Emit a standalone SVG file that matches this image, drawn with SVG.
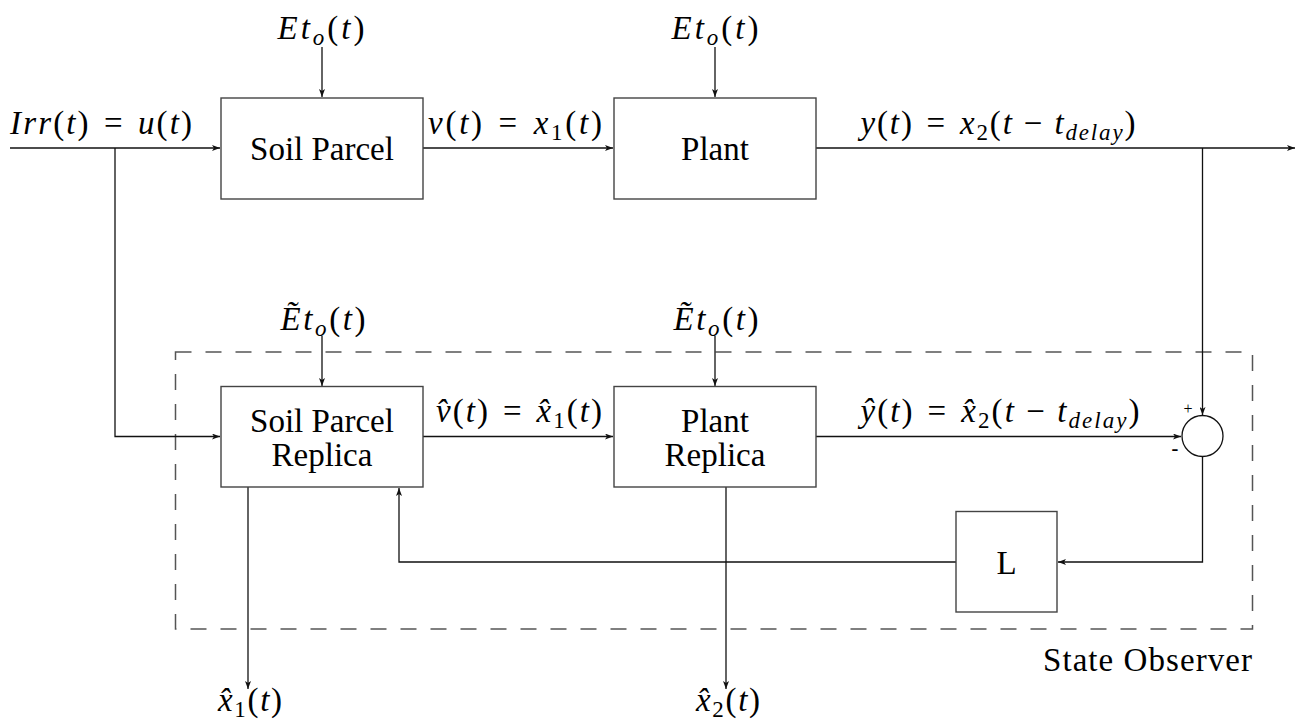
<svg xmlns="http://www.w3.org/2000/svg" width="1300" height="720" viewBox="0 0 1300 720">
<style>
  text { font-family: "Liberation Serif", "DejaVu Serif", serif; fill: #000; }
  .t { font-size: 33px; }
  .m { font-size: 33px; }
  .i { font-style: italic; }
  .s { font-size: 23px; }
  .box { fill: #fff; stroke: #444; stroke-width: 1.4; }
  .ln { fill: none; stroke: #111; stroke-width: 1.3; }
  .dash { fill: none; stroke: #555; stroke-width: 1.5; stroke-dasharray: 16 14; }
</style>
<defs>
  <marker id="ah" viewBox="0 0 8 6" refX="8" refY="3" markerWidth="8" markerHeight="6" markerUnits="userSpaceOnUse" orient="auto">
    <path d="M0,0 L8,3 L0,6 L2,3 z" fill="#111"/>
  </marker>
</defs>
<rect width="1300" height="720" fill="#fff"/>

<g id="observer-frame">
  <rect class="dash" x="175.5" y="352" width="1077" height="277"/>
  <text class="t" x="1252" y="671" text-anchor="end" textLength="209">State Observer</text>
</g>

<g id="connectors">
  <path class="ln" d="M10,148 H220" marker-end="url(#ah)"/>
  <path class="ln" d="M115,148 V436.5 H220" marker-end="url(#ah)"/>
  <path class="ln" d="M423,148 H613" marker-end="url(#ah)"/>
  <path class="ln" d="M816,148 H1295" marker-end="url(#ah)"/>
  <path class="ln" d="M1202.5,148 V415" marker-end="url(#ah)"/>
  <path class="ln" d="M322,47 V97" marker-end="url(#ah)"/>
  <path class="ln" d="M715,47 V97" marker-end="url(#ah)"/>
  <path class="ln" d="M322,336 V386" marker-end="url(#ah)"/>
  <path class="ln" d="M715,336 V386" marker-end="url(#ah)"/>
  <path class="ln" d="M423,436.5 H613" marker-end="url(#ah)"/>
  <path class="ln" d="M816,436.5 H1181" marker-end="url(#ah)"/>
  <path class="ln" d="M1202.5,457 V562 H1058" marker-end="url(#ah)"/>
  <path class="ln" d="M956,562 H399 V488" marker-end="url(#ah)"/>
  <path class="ln" d="M248,487 V689" marker-end="url(#ah)"/>
  <path class="ln" d="M726,487 V689" marker-end="url(#ah)"/>
</g>

<g id="labels">
  <text class="m" x="101" y="134" text-anchor="middle" textLength="182"><tspan class="i">Irr</tspan>(<tspan class="i">t</tspan>)&#8196;=&#8196;<tspan class="i">u</tspan>(<tspan class="i">t</tspan>)</text>
  <text class="m" x="515" y="134" text-anchor="middle" textLength="174"><tspan class="i">v</tspan>(<tspan class="i">t</tspan>)&#8196;=&#8196;<tspan class="i">x</tspan><tspan class="s" dy="6">1</tspan><tspan dy="-6">(</tspan><tspan class="i">t</tspan>)</text>
  <text class="m" x="998" y="134" text-anchor="middle" textLength="275"><tspan class="i">y</tspan>(<tspan class="i">t</tspan>)&#8196;=&#8196;<tspan class="i">x</tspan><tspan class="s" dy="6">2</tspan><tspan dy="-6">(</tspan><tspan class="i">t</tspan> − <tspan class="i">t</tspan><tspan class="i s" dy="6">delay</tspan><tspan dy="-6">)</tspan></text>
  <text class="m" x="321" y="39" text-anchor="middle" textLength="87"><tspan class="i">Et</tspan><tspan class="i s" dy="6">o</tspan><tspan dy="-6">(</tspan><tspan class="i">t</tspan>)</text>
  <text class="m" x="715" y="39" text-anchor="middle" textLength="87"><tspan class="i">Et</tspan><tspan class="i s" dy="6">o</tspan><tspan dy="-6">(</tspan><tspan class="i">t</tspan>)</text>
  <text class="m" x="323" y="330" text-anchor="middle" textLength="85"><tspan class="i">Ẽt</tspan><tspan class="i s" dy="6">o</tspan><tspan dy="-6">(</tspan><tspan class="i">t</tspan>)</text>
  <text class="m" x="716" y="330" text-anchor="middle" textLength="85"><tspan class="i">Ẽt</tspan><tspan class="i s" dy="6">o</tspan><tspan dy="-6">(</tspan><tspan class="i">t</tspan>)</text>
  <text class="m" x="519" y="422" text-anchor="middle" textLength="166"><tspan class="i">v̂</tspan>(<tspan class="i">t</tspan>)&#8196;=&#8196;<tspan class="i">x̂</tspan><tspan class="s" dy="6">1</tspan><tspan dy="-6">(</tspan><tspan class="i">t</tspan>)</text>
  <text class="m" x="1000" y="422" text-anchor="middle" textLength="279"><tspan class="i">ŷ</tspan>(<tspan class="i">t</tspan>)&#8196;=&#8196;<tspan class="i">x̂</tspan><tspan class="s" dy="6">2</tspan><tspan dy="-6">(</tspan><tspan class="i">t</tspan> − <tspan class="i">t</tspan><tspan class="i s" dy="6">delay</tspan><tspan dy="-6">)</tspan></text>
  <text class="m" x="250" y="711" text-anchor="middle" textLength="64"><tspan class="i">x̂</tspan><tspan class="s" dy="6">1</tspan><tspan dy="-6">(</tspan><tspan class="i">t</tspan>)</text>
  <text class="m" x="728" y="711" text-anchor="middle" textLength="64"><tspan class="i">x̂</tspan><tspan class="s" dy="6">2</tspan><tspan dy="-6">(</tspan><tspan class="i">t</tspan>)</text>
</g>

<g id="soil-parcel">
  <rect class="box" x="221" y="98" width="202" height="101"/>
  <text class="t" x="322" y="160" text-anchor="middle">Soil Parcel</text>
</g>
<g id="plant">
  <rect class="box" x="614" y="98" width="202" height="101"/>
  <text class="t" x="715" y="160" text-anchor="middle">Plant</text>
</g>
<g id="soil-parcel-replica">
  <rect class="box" x="221" y="386.5" width="202" height="100.5"/>
  <text class="t" x="322" y="432" text-anchor="middle">Soil Parcel</text>
  <text class="t" x="322" y="466" text-anchor="middle">Replica</text>
</g>
<g id="plant-replica">
  <rect class="box" x="614" y="386.5" width="202" height="100.5"/>
  <text class="t" x="715" y="432" text-anchor="middle">Plant</text>
  <text class="t" x="715" y="466" text-anchor="middle">Replica</text>
</g>
<g id="summing-junction">
  <circle cx="1202.5" cy="436" r="20.5" fill="#fff" stroke="#111" stroke-width="1.3"/>
  <text x="1188" y="414" font-size="16" text-anchor="middle">+</text>
  <text x="1175" y="456" font-size="22" text-anchor="middle" style="font-family: 'Liberation Sans', 'DejaVu Sans', sans-serif;">-</text>
</g>
<g id="gain-L">
  <rect class="box" x="956" y="511.5" width="101" height="100.5"/>
  <text class="t" x="1006.5" y="574" text-anchor="middle">L</text>
</g>
</svg>
